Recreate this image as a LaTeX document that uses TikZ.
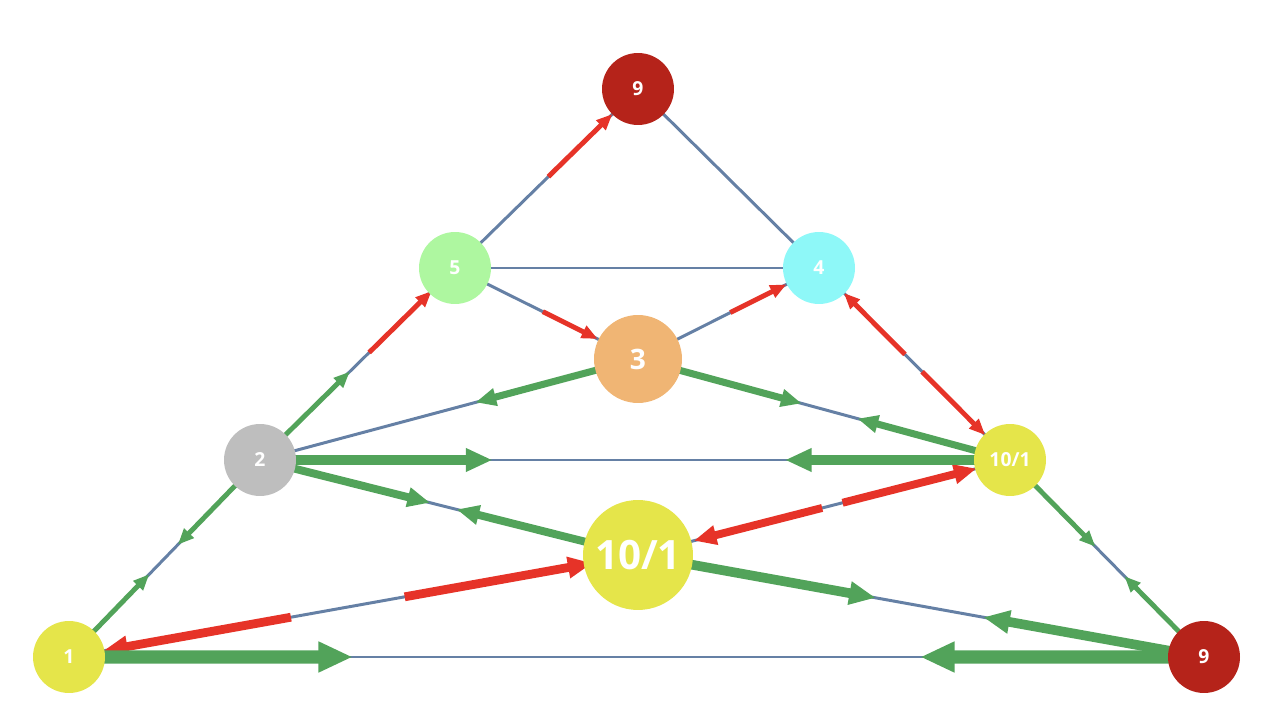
\documentclass[tikz,border=0pt]{standalone}
\usepackage{fontspec}
\setmainfont{Open Sans}
\usepackage{tikz}
\usetikzlibrary{positioning,calc,arrows.meta,backgrounds}

\definecolor{darkred}{HTML}{B5231A}
\definecolor{lightgreen}{HTML}{AEF7A0}
\definecolor{lightcyan}{HTML}{8EF8F8}
\definecolor{orangenode}{HTML}{F0B574}
\definecolor{graynode}{HTML}{BEBEBE}
\definecolor{yellownode}{HTML}{E5E54A}
\definecolor{edgeblue}{HTML}{6580A5}
\definecolor{flowgreen}{HTML}{52A35A}
\definecolor{flowred}{HTML}{E63328}

\tikzset{
	vertex/.style={circle, inner sep=0pt, minimum size=1.44cm, text=white, font=\bfseries\fontsize{11}{11}\selectfont},
	base/.style={draw=edgeblue, line width=1.7pt},
	gflow/.style={draw=flowgreen, line width=#1, -{Triangle[length=3pt 2.2, width=2pt 1.9]}},
	rflow/.style={draw=flowred, line width=#1, -{Triangle[length=3pt 2.2, width=2pt 1.9]}}
}

\begin{document}
\begin{tikzpicture}[x=0.02cm, y=-0.02cm]
	\useasboundingbox (0,0) rectangle (1272,722);
	\node [vertex, fill=darkred] (T9) at (638, 89) {9};
	\node [vertex, fill=lightgreen] (V5) at (455, 268) {5};
	\node [vertex, fill=lightcyan] (V4) at (819, 268) {4};
	\node [vertex, fill=orangenode, minimum size=1.76cm, font=\bfseries\fontsize{16}{16}\selectfont] (V3) at (638, 359) {3};
	\node [vertex, fill=graynode] (V2) at (260, 460) {2};
	\node [vertex, fill=yellownode] (R10) at (1010, 460) {10/1};
	\node [vertex, fill=yellownode, minimum size=2.2cm, font=\bfseries\fontsize{23}{23}\selectfont] (C10) at (638, 555) {10/1};
	\node [vertex, fill=yellownode] (V1) at (69, 657) {1};
	\node [vertex, fill=darkred] (B9) at (1204, 657) {9};

	\begin{scope}[on background layer]
	% base edges
	\path [base] (V5.center) -- (T9.center);
	\path [base] (T9.center) -- (V4.center);
	\path [base] (V5.center) -- (V4.center);
	\path [base] (V5.center) -- (V3.center);
	\path [base] (V3.center) -- (V4.center);
	\path [base] (V2.center) -- (V5.center);
	\path [base] (V4.center) -- (R10.center);
	\path [base] (V2.center) -- (V3.center);
	\path [base] (V3.center) -- (R10.center);
	\path [base] (V2.center) -- (R10.center);
	\path [base] (V2.center) -- (C10.center);
	\path [base] (C10.center) -- (B9.center);
	\path [base] (V1.center) -- (V2.center);
	\path [base] (R10.center) -- (B9.center);
	\path [base] (V1.center) -- (C10.center);
	\path [base] (R10.center) -- (C10.center);
	\path [base] (V1.center) -- (B9.center);
	% red flows
	\path [rflow=2.8pt] ($(V5)!0.51!(T9)$) -- ($(V5)!0.86!(T9)$);
	\path [rflow=2.8pt] ($(V5)!0.48!(V3)$) -- ($(V5)!0.78!(V3)$);
	\path [rflow=2.8pt] ($(V3)!0.51!(V4)$) -- ($(V3)!0.82!(V4)$);
	\path [rflow=2.8pt] ($(V2)!0.56!(V5)$) -- ($(V2)!0.88!(V5)$);
	\path [rflow=2.8pt] ($(R10)!0.55!(V4)$) -- ($(R10)!0.87!(V4)$);
	\path [rflow=2.8pt] ($(V4)!0.54!(R10)$) -- ($(V4)!0.87!(R10)$);
	\path [rflow=5pt] ($(C10)!0.61!(V1)$) -- ($(C10)!0.94!(V1)$);
	\path [rflow=5pt] ($(V1)!0.59!(C10)$) -- ($(V1)!0.92!(C10)$);
	\path [rflow=4.5pt] ($(R10)!0.505!(C10)$) -- ($(R10)!0.85!(C10)$);
	\path [rflow=4.5pt] ($(C10)!0.55!(R10)$) -- ($(C10)!0.91!(R10)$);
	% green flows
	\path [gflow=2.8pt] (V2.center) -- ($(V2)!0.46!(V5)$);
	\path [gflow=2.8pt] (V1.center) -- ($(V1)!0.42!(V2)$);
	\path [gflow=2.8pt] (V2.center) -- ($(V2)!0.43!(V1)$);
	\path [gflow=2.8pt] (R10.center) -- ($(R10)!0.44!(B9)$);
	\path [gflow=2.8pt] (B9.center) -- ($(B9)!0.41!(R10)$);
	\path [gflow=4pt] (V3.center) -- ($(V3)!0.43!(V2)$);
	\path [gflow=4pt] (V3.center) -- ($(V3)!0.44!(R10)$);
	\path [gflow=4pt] (R10.center) -- ($(R10)!0.41!(V3)$);
	\path [gflow=5.5pt] (V2.center) -- ($(V2)!0.31!(R10)$);
	\path [gflow=5.5pt] (R10.center) -- ($(R10)!0.30!(V2)$);
	\path [gflow=4.5pt] (V2.center) -- ($(V2)!0.45!(C10)$);
	\path [gflow=4.5pt] (C10.center) -- ($(C10)!0.48!(V2)$);
	\path [gflow=5.5pt] (C10.center) -- ($(C10)!0.42!(B9)$);
	\path [gflow=5.5pt] (B9.center) -- ($(B9)!0.39!(C10)$);
	\path [gflow=7.5pt] (V1.center) -- ($(V1)!0.25!(B9)$);
	\path [gflow=7.5pt] (B9.center) -- ($(B9)!0.25!(V1)$);
	\end{scope}
\end{tikzpicture}
\end{document}
